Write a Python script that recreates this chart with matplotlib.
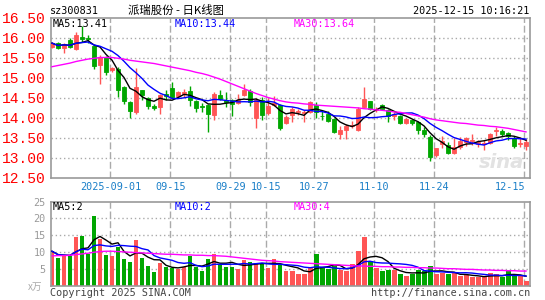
import numpy as np
import pandas as pd
import matplotlib
matplotlib.use("Agg")
import matplotlib.pyplot as plt
from matplotlib.transforms import blended_transform_factory, offset_copy

# trading days shown (Aug 18 -> Dec 15, National Day holiday removed)
days = pd.bdate_range("2025-08-18", "2025-12-15")
days = days[(days < "2025-10-01") | (days > "2025-10-08")]

opens = [15.77, 15.87, 15.74, 15.95, 15.72, 16.00, 15.99, 15.78, 15.31, 15.52,
         15.20, 15.22, 14.77, 14.39, 14.14, 14.68, 14.50, 14.28, 14.26, 14.58,
         14.75, 14.53, 14.60, 14.65, 14.42, 14.30, 14.30, 14.06, 14.57, 14.45,
         14.44, 14.37, 14.56, 14.66, 14.00, 14.44, 14.12, 14.31, 14.32, 13.87,
         14.06, 14.13, 14.12, 14.14, 14.32, 14.05, 14.08, 13.95, 13.58, 13.68,
         13.80, 13.68, 14.27, 14.40, 14.19, 14.30, 14.18, 14.03, 14.03, 13.87,
         13.95, 13.89, 13.70, 13.52, 13.06, 13.33, 13.31, 13.12, 13.27, 13.39,
         13.42, 13.33, 13.33, 13.36, 13.66, 13.67, 13.61, 13.48, 13.33, 13.28]
closes = [15.86, 15.74, 15.85, 15.77, 16.06, 15.96, 15.97, 15.30, 15.52, 15.14,
          15.24, 14.68, 14.42, 14.17, 14.77, 14.56, 14.30, 14.23, 14.56, 14.55,
          14.52, 14.63, 14.63, 14.45, 14.25, 14.27, 14.10, 14.58, 14.46, 14.38,
          14.34, 14.44, 14.68, 14.40, 14.45, 14.06, 14.28, 14.36, 13.73, 14.02,
          14.22, 14.15, 14.15, 14.39, 14.15, 14.03, 13.92, 13.65, 13.69, 13.79,
          13.82, 14.22, 14.46, 14.22, 14.21, 14.22, 14.03, 14.10, 13.87, 13.96,
          13.86, 13.68, 13.58, 13.01, 13.23, 13.40, 13.12, 13.27, 13.41, 13.48,
          13.44, 13.39, 13.37, 13.58, 13.68, 13.58, 13.53, 13.29, 13.36, 13.39]
highs = [15.90, 15.89, 15.87, 15.98, 16.14, 16.28, 16.06, 15.82, 15.56, 15.55,
         15.27, 15.26, 14.80, 14.42, 15.24, 14.70, 14.52, 14.33, 14.60, 14.70,
         14.89, 14.66, 14.72, 14.80, 14.45, 14.36, 14.33, 14.64, 14.69, 14.64,
         14.47, 14.60, 14.84, 14.72, 14.48, 14.52, 14.50, 14.55, 14.35, 14.06,
         14.26, 14.22, 14.20, 14.42, 14.40, 14.18, 14.16, 13.98, 13.80, 13.83,
         13.92, 14.26, 14.76, 14.42, 14.27, 14.33, 14.22, 14.14, 14.06, 13.98,
         13.97, 13.92, 13.76, 13.56, 13.25, 13.55, 13.38, 13.48, 13.51, 13.52,
         13.60, 13.45, 13.45, 13.61, 13.76, 13.72, 13.65, 13.55, 13.52, 13.47]
lows = [15.74, 15.72, 15.61, 15.75, 15.68, 15.90, 15.87, 15.22, 14.85, 15.06,
        15.15, 14.52, 14.35, 13.99, 14.10, 14.44, 14.21, 14.20, 14.10, 14.45,
        14.48, 14.48, 14.52, 14.28, 14.14, 14.14, 13.64, 13.93, 14.43, 14.27,
        14.05, 14.34, 14.54, 14.30, 13.73, 13.93, 14.06, 14.28, 13.70, 13.84,
        13.90, 14.06, 13.90, 14.12, 13.98, 13.93, 13.88, 13.62, 13.47, 13.47,
        13.74, 13.66, 14.25, 14.20, 14.14, 14.18, 13.90, 13.95, 13.85, 13.83,
        13.82, 13.58, 13.52, 12.91, 13.02, 13.25, 13.10, 13.10, 13.22, 13.30,
        13.31, 13.26, 13.18, 13.34, 13.55, 13.53, 13.44, 13.25, 13.27, 13.18]
ma30 = [15.27, 15.30, 15.33, 15.36, 15.40, 15.43, 15.46, 15.48, 15.50, 15.50,
        15.50, 15.48, 15.46, 15.43, 15.41, 15.39, 15.37, 15.35, 15.32, 15.29,
        15.26, 15.23, 15.20, 15.17, 15.13, 15.10, 15.06, 15.01, 14.96, 14.90,
        14.84, 14.78, 14.72, 14.66, 14.60, 14.55, 14.50, 14.46, 14.42, 14.39,
        14.37, 14.36, 14.34, 14.33, 14.31, 14.30, 14.29, 14.28, 14.27, 14.26,
        14.25, 14.24, 14.22, 14.21, 14.19, 14.18, 14.16, 14.14, 14.13, 14.10,
        14.07, 14.04, 14.01, 13.97, 13.94, 13.92, 13.90, 13.88, 13.86, 13.85,
        13.83, 13.81, 13.80, 13.78, 13.77, 13.75, 13.73, 13.70, 13.67, 13.64]

# volume (x10k)
volumes = [10.2, 8.2, 8.7, 8.7, 14.4, 14.7, 9.5, 20.7, 13.7, 9.0,
           8.7, 11.5, 7.8, 7.0, 13.5, 8.2, 5.7, 4.0, 6.7, 5.5,
           5.2, 4.8, 5.5, 8.8, 5.5, 4.3, 7.8, 9.3, 6.3, 5.5,
           5.5, 4.9, 7.7, 7.0, 6.7, 6.3, 5.2, 7.8, 6.5, 4.3,
           4.3, 3.3, 3.3, 5.2, 9.3, 5.5, 4.8, 5.8, 4.5, 4.3,
           6.3, 10.2, 14.4, 7.2, 5.3, 4.2, 4.5, 4.5, 3.5, 2.7,
           3.5, 4.7, 4.2, 5.9, 3.3, 3.7, 3.3, 3.7, 2.7, 3.0,
           2.5, 2.5, 2.5, 3.7, 3.3, 2.5, 4.2, 2.8, 3.0, 1.3]
vol_ma30 = [8.8, 8.9, 8.9, 9.0, 9.2, 9.4, 9.6, 9.9, 10.1, 10.2,
            10.2, 10.1, 10.0, 9.9, 9.8, 9.7, 9.6, 9.5, 9.4, 9.3,
            9.3, 9.2, 9.1, 9.1, 9.0, 9.0, 8.9, 8.9, 8.8, 8.7,
            8.5, 8.3, 8.1, 7.9, 7.7, 7.5, 7.4, 7.3, 7.1, 7.0,
            6.9, 6.8, 6.7, 6.6, 6.5, 6.4, 6.3, 6.2, 6.1, 6.0,
            5.9, 5.8, 5.8, 5.7, 5.7, 5.6, 5.6, 5.5, 5.5, 5.4,
            5.4, 5.3, 5.3, 5.2, 5.2, 5.1, 5.0, 5.0, 4.9, 4.8,
            4.8, 4.7, 4.6, 4.6, 4.5, 4.5, 4.4, 4.4, 4.3, 4.3]

tick_days = ["2025-09-01", "2025-09-15", "2025-09-29", "2025-10-15",
             "2025-10-27", "2025-11-10", "2025-11-24", "2025-12-15"]
tick_labels = ["2025-09-01", "09-15", "09-29", "10-15",
               "10-27", "11-10", "11-24", "12-15"]

RED = "#ff5555"
GREEN = "#00a600"
GRID = "#aaaaaa"
MONO = "DejaVu Sans Mono"
CJK = ["Noto Sans CJK SC", "DejaVu Sans"]

o = np.array(opens); c = np.array(closes)
h = np.array(highs); l = np.array(lows)
v = np.array(volumes)
x = np.arange(len(days))
col = np.where(c >= o, RED, GREEN)
ma5 = pd.Series(c).rolling(5, min_periods=1).mean()
ma10 = pd.Series(c).rolling(10, min_periods=1).mean()
vma5 = pd.Series(v).rolling(5, min_periods=1).mean()
vma10 = pd.Series(v).rolling(10, min_periods=1).mean()
tick_pos = [days.get_loc(pd.Timestamp(d)) for d in tick_days]

W, H = 545, 300
fig = plt.figure(figsize=(W / 100, H / 100), dpi=100)

def box(left, top, right, bottom):
    return [left / W, 1 - bottom / H, (right - left) / W, (bottom - top) / H]

ax = fig.add_axes(box(50.5, 17.5, 529.5, 177.5))
axv = fig.add_axes(box(50.5, 201.5, 529.5, 285.5))

for a in (ax, axv):
    a.set_xlim(-0.25, 79.58)
    for s in a.spines.values():
        s.set_color("#999999")
        s.set_linewidth(1.2)
    a.tick_params(length=0, pad=3.3)
    a.set_xticks([])
    for p in tick_pos:
        a.axvline(p - 0.28, color=GRID, lw=1, dashes=(5, 2), zorder=0)

# price panel
ax.set_ylim(12.5, 16.5)
yt = np.arange(12.5, 16.51, 0.5)
ax.set_yticks(yt, [f"{t:.2f}" for t in yt], color="red",
              family="Liberation Mono", fontsize=10.5)
for t in yt[1:-1]:
    ax.axhline(t, color=GRID, lw=1, dashes=(1, 2), zorder=0)

ax.text(0.895, 0.06, "sina", transform=ax.transAxes, fontsize=14,
        fontweight="bold", style="italic", color="#e2e2e2", zorder=0)

ax.vlines(x, l, h, colors=col, lw=1, zorder=2)
ax.bar(x, np.abs(c - o), 0.7, bottom=np.minimum(o, c), color=col,
       edgecolor=col, linewidth=0.6, zorder=3)
ax.plot(x, ma5, color="black", lw=1, zorder=4)
ax.plot(x, ma10, color="blue", lw=1, zorder=4)
ax.plot(x, ma30, color="magenta", lw=1, zorder=4)

tr = offset_copy(blended_transform_factory(ax.transData, ax.transAxes),
                 fig=fig, y=-9.2, units="dots")
for p, lab in zip(tick_pos, tick_labels):
    last = lab == tick_labels[-1]
    ax.text(p - 0.28 + (0.2 if last else 0), 0, lab, transform=tr,
            ha="right" if last else "center", va="center",
            color="#1a7fc8", family=MONO, fontsize=7.3)

# volume panel
axv.set_ylim(0, 25)
vt = [5, 10, 15, 20, 25]
axv.set_yticks(vt, [str(t) for t in vt], color="#999999", family=MONO, fontsize=7.3)
for t in vt[:-1]:
    axv.axhline(t, color=GRID, lw=1, dashes=(1, 2), zorder=0)
axv.bar(x, v, 0.83, color=col, zorder=2)
axv.plot(x, vma5, color="black", lw=1, zorder=4)
axv.plot(x, vma10, color="blue", lw=1, zorder=4)
axv.plot(x, vol_ma30, color="magenta", lw=1, zorder=4)

def ptext(px, py, s, **kw):
    kw.setdefault("family", MONO)
    kw.setdefault("fontsize", 7.3)
    kw.setdefault("va", "center")
    fig.text(px / W, 1 - py / H, s, **kw)

ptext(50, 11, "sz300831")
ptext(176, 10.5, "派瑞股份 - 日K线图", family=CJK, fontsize=8.2, ha="center")
ptext(529, 11.5, "2025-12-15 10:16:21", ha="right")
ptext(53, 23.7, "MA5:13.41", color="black")
ptext(175, 23.7, "MA10:13.44", color="blue")
ptext(294, 23.7, "MA30:13.64", color="magenta")
ptext(53, 206.5, "MA5:2", color="black")
ptext(175, 206.5, "MA10:2", color="blue")
ptext(294, 206.5, "MA30:4", color="magenta")
ptext(28, 287, "x万", family=CJK, fontsize=7, color="#aaaaaa")
ptext(50, 292.5, "Copyright 2025 SINA.COM", color="#444444")
ptext(530, 292.5, "http://finance.sina.com.cn", color="#444444", ha="right")

fig.savefig("out.png", dpi=100)
